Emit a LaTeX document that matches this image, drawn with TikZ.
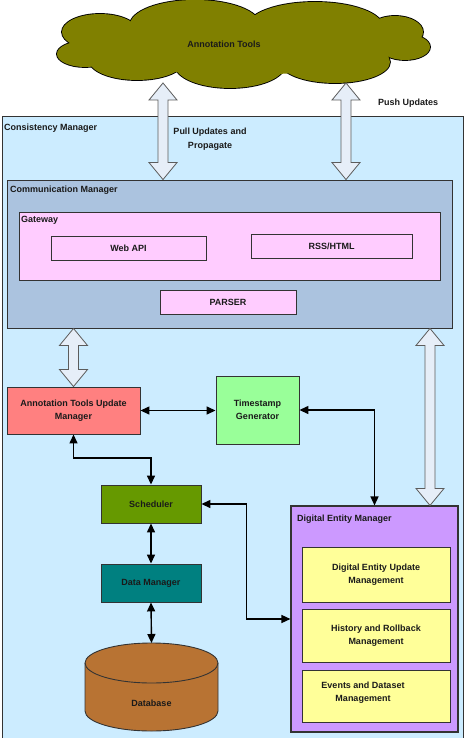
\documentclass[tikz,border=0pt]{standalone}
\usepackage{fontspec}
\setmainfont{Liberation Sans}
\usetikzlibrary{arrows.meta,calc}
\definecolor{cmbg}{HTML}{CCECFF}
\definecolor{commbg}{HTML}{ABC3DF}
\definecolor{pinkbg}{HTML}{FFCCFF}
\definecolor{atumbg}{HTML}{FF8080}
\definecolor{tgbg}{HTML}{99FF99}
\definecolor{schedbg}{HTML}{669900}
\definecolor{dmbg}{HTML}{008080}
\definecolor{dbbg}{HTML}{B87333}
\definecolor{dembg}{HTML}{CC99FF}
\definecolor{yelbg}{HTML}{FFFF99}
\definecolor{cloudbg}{HTML}{808000}
\definecolor{fatbg}{HTML}{E6EEF8}
\definecolor{edge}{HTML}{333333}
\definecolor{txt}{HTML}{1A1A1A}
\newcommand\fatarrow[2]{%
  \path[fat] let \p1=(#1), \p2=(#2) in
    (\x1,\y1) -- (\x1+14pt,\y1-17pt) -- (\x1+5pt,\y1-17pt) -- (\x1+5pt,\y2+17pt)
    -- (\x1+14pt,\y2+17pt) -- (\x1,\y2) -- (\x1-14pt,\y2+17pt) -- (\x1-5pt,\y2+17pt)
    -- (\x1-5pt,\y1-17pt) -- (\x1-14pt,\y1-17pt) -- cycle;}
\newcommand\cloudpuffs[1]{%
  \foreach \cx/\cy/\rx/\ry in {100/32/38/18, 85/54/28/13, 195/25/65/25, 315/27/68/25,
     395/32/28/16, 405/47/25/13, 335/62/55/21, 230/65/55/23, 137/60/48/20}
    {\path[#1] (\cx,\cy) ellipse[x radius=\rx, y radius=\ry];}}
\begin{document}
\begin{tikzpicture}[x=1pt,y=-1pt,
  font=\bfseries\fontsize{9}{13}\selectfont, text=txt,
  box/.style={draw=edge, line width=0.9pt, rectangle, inner sep=0pt, align=center},
  lbl/.style={anchor=west, inner sep=0pt},
  fat/.style={draw=edge!80, line width=0.8pt, fill=fatbg, line join=miter},
  puffline/.style={draw=black, line width=1.8pt, fill=cloudbg},
  pufffill/.style={fill=cloudbg},
  conn/.style={draw=black, line width=1.4pt, {Triangle[length=9pt,width=8pt]}-{Triangle[length=9pt,width=8pt]}}]
\useasboundingbox (0,0) rectangle (468,738);
% consistency manager
\node[box, fill=cmbg, minimum width=461, minimum height=626, anchor=north west] (cm) at (2,116) {};
\node[lbl] (cml) at (4,128) {Consistency Manager};
% cloud
\cloudpuffs{puffline}
\cloudpuffs{pufffill}
\fill[cloudbg] (240,45) ellipse[x radius=150, y radius=30];
\node[inner sep=0pt] (cloud) at (224,44) {Annotation Tools};
\node[lbl] (push) at (378,103) {Push Updates};
\node[align=center, inner sep=0pt, font=\bfseries\fontsize{9}{14}\selectfont] (pull) at (210,139) {Pull Updates and\\Propagate};
% communication manager
\node[box, fill=commbg, minimum width=445, minimum height=148] (comm) at (229.5,254) {};
\node[lbl] (comml) at (10,190) {Communication Manager};
\node[box, fill=pinkbg, minimum width=421, minimum height=68] (gw) at (229.5,246) {};
\node[lbl] (gwl) at (21,220) {Gateway};
\node[box, fill=pinkbg, minimum width=155, minimum height=24] (web) at (128.5,248) {Web API};
\node[box, fill=pinkbg, minimum width=161, minimum height=24] (rss) at (331.5,246) {RSS/HTML};
\node[box, fill=pinkbg, minimum width=136, minimum height=24] (parser) at (228,302) {PARSER};
% lower boxes
\node[box, fill=atumbg, minimum width=133, minimum height=47] (atum) at (73.5,410.5) {Annotation Tools Update\\Manager};
\node[box, fill=tgbg, minimum width=83, minimum height=68] (tg) at (257.5,410) {Timestamp\\Generator};
\node[box, fill=schedbg, minimum width=100, minimum height=38] (sched) at (151,504) {Scheduler};
\node[box, fill=dmbg, minimum width=100, minimum height=38] (dm) at (151,583) {Data Manager};
% database
\filldraw[draw=edge, line width=0.9pt, fill=dbbg] (85,663) -- (85,711)
  arc[start angle=180,end angle=0,x radius=66.5,y radius=20] -- (218,663)
  arc[start angle=0,end angle=-180,x radius=66.5,y radius=20] -- cycle;
\draw[edge, line width=0.9pt] (85,663) arc[start angle=180,end angle=0,x radius=66.5,y radius=20];
\coordinate (dbtop) at (151.5,643);
\node (db) at (151.5,703) {Database};
% digital entity manager
\node[box, fill=dembg, minimum width=167, minimum height=226, line width=1.1pt] (dem) at (374.5,619) {};
\node[lbl] (deml) at (297,519) {Digital Entity Manager};
\node[box, fill=yelbg, minimum width=148, minimum height=55] (deu) at (376,574.5) {Digital Entity Update\\Management};
\node[box, fill=yelbg, minimum width=148, minimum height=53] (hr) at (376,635.5) {History and Rollback\\Management};
\node[box, fill=yelbg, minimum width=148, minimum height=52] (eds) at (376,696) {};
\node[align=center, inner sep=0pt] (edst) at (363,693) {Events and Dataset\\Management};
% fat arrows
\coordinate (f1t) at (163,83);
\coordinate (f2t) at (346,83);
\fatarrow{f1t}{f1t |- comm.north}
\fatarrow{f2t}{f2t |- comm.north}
\fatarrow{comm.south -| atum.north}{atum.north}
\coordinate (f4) at (430,0);
\fatarrow{f4 |- comm.south}{f4 |- dem.north}
% connectors
\draw[conn] (atum.east) -- (atum.east -| tg.west);
\draw[conn] (tg.east) -| (dem.north);
\coordinate (mid1) at ($(atum.south)!0.47!(sched.north)$);
\draw[conn] (atum.south) |- (mid1) -| (sched.north);
\draw[conn] (sched.east) -- ++(45,0) |- (dem.west);
\draw[conn] (sched.south) -- (dm.north);
\draw[conn] (dm.south) -- (dbtop);
\end{tikzpicture}
\end{document}
